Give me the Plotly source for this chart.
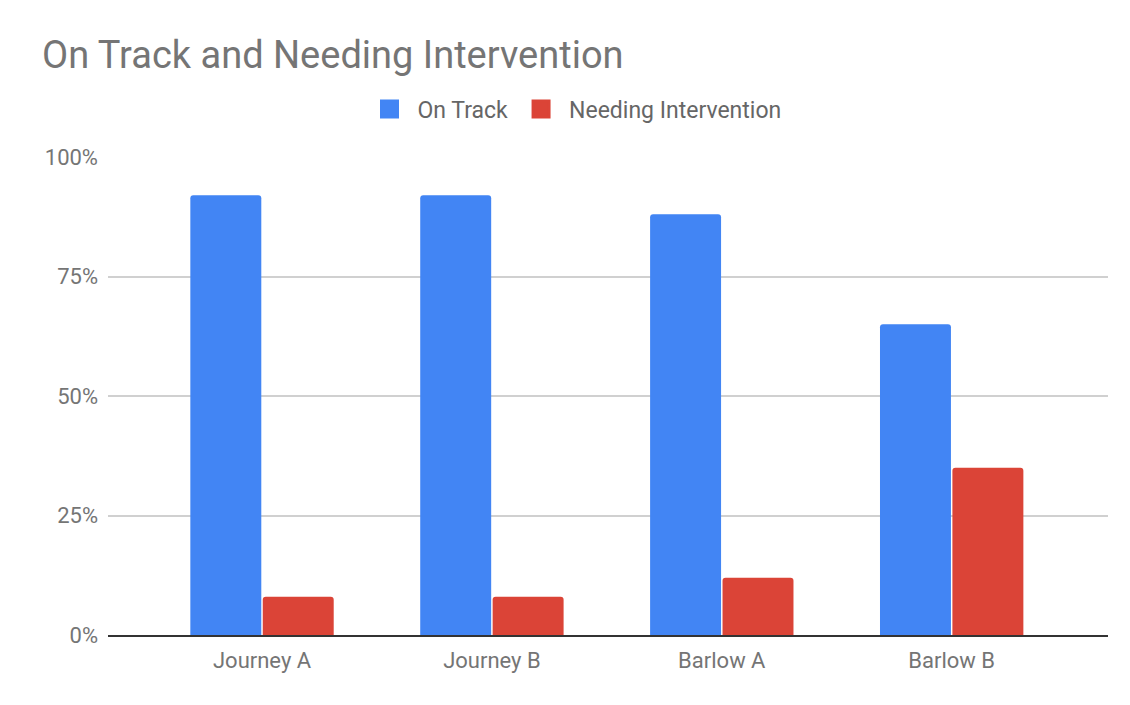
import plotly.graph_objects as go

categories = ["Journey A", "Journey B", "Barlow A", "Barlow B"]
on_track = [0.92, 0.92, 0.88, 0.65]
needing_intervention = [0.08, 0.08, 0.12, 0.35]
y_ticks = [0, 0.25, 0.5, 0.75, 1.0]
y_tick_labels = ["0%", "25%", "50%", "75%", "100%"]
series_names = ["On Track", "Needing Intervention"]
series_colors = ["#4285F4", "#DB4437"]

# page body has an 8px margin; size the figure to fit the window
OFF = 8
W, H = 1130 - OFF, 705 - OFF
L, R, T, B = 108 - OFF, 22, 157 - OFF, 70

fig = go.Figure()
for name, vals, col in zip(series_names, [on_track, needing_intervention], series_colors):
    fig.add_trace(go.Bar(name=name, x=categories, y=vals, showlegend=False,
                         marker=dict(color=col, line=dict(width=0)), hoverinfo="skip"))
# legend entries with larger square swatches
for name, col in zip(series_names, series_colors):
    fig.add_trace(go.Scatter(name=name, x=[None], y=[None], mode="markers",
                             marker=dict(symbol="square", size=16, color=col,
                                         line=dict(color=col, width=3)),
                             showlegend=True, hoverinfo="skip"))

fig.update_layout(
    width=W, height=H,
    margin=dict(l=L, r=R, t=T, b=B, pad=0),
    paper_bgcolor="white", plot_bgcolor="white",
    font=dict(family="Roboto", color="#757575", size=22),
    title=dict(text="On Track and Needing Intervention", x=(42 - OFF) / W, xanchor="left",
               xref="container", y=1 - (55 - OFF) / H, yanchor="middle", yref="container",
               font=dict(size=38, color="#757575", family="Roboto")),
    legend=dict(orientation="h", x=(574 - OFF) / W, xanchor="center", xref="container",
                y=1 - (109 - OFF) / H, yanchor="middle", yref="container",
                font=dict(size=23, color="#666666"), itemwidth=46,
                traceorder="normal"),
    barmode="group", bargap=0.37, bargroupgap=0.02, barcornerradius=3,
    xaxis=dict(range=[-0.67, 3.68], showgrid=False, showline=True, linecolor="#333333",
               linewidth=2, ticks="", ticklabelstandoff=5,
               tickfont=dict(size=22, color="#757575"), fixedrange=True),
    yaxis=dict(range=[0, 1.0], tickvals=y_ticks, ticktext=y_tick_labels, showgrid=True,
               gridcolor="#d0d0d0", gridwidth=1.5, zeroline=False, showline=False, ticks="",
               ticklabelstandoff=9, tickfont=dict(size=22, color="#757575"), fixedrange=True),
)
fig.write_html("out.html")
